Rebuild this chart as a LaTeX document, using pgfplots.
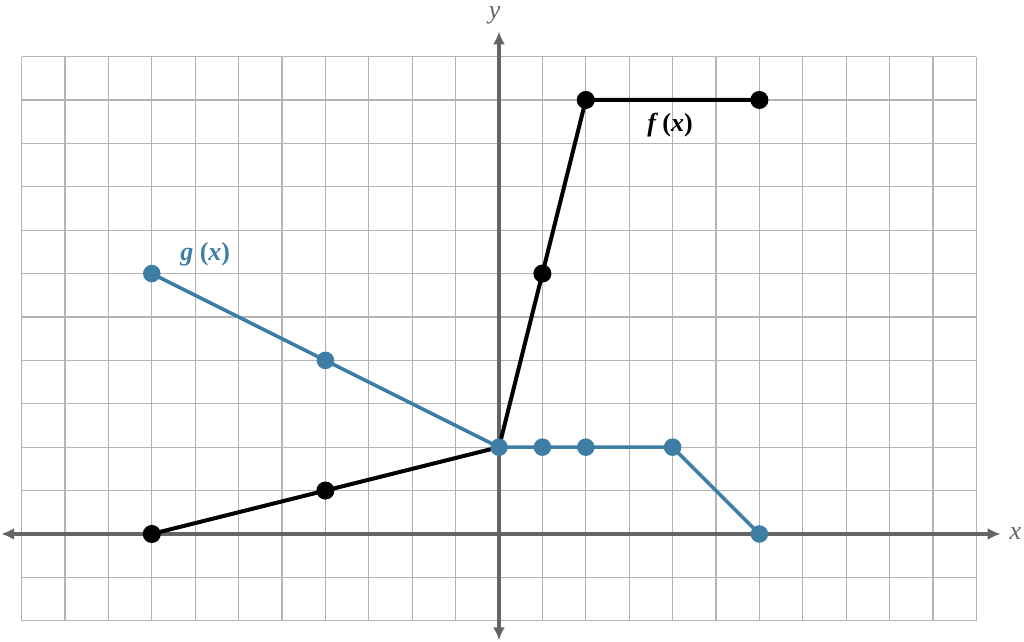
\documentclass[border=0pt]{standalone}
\usepackage{pgfplots}
\pgfplotsset{compat=1.18}
\usetikzlibrary{arrows.meta}
\usepackage{fontspec}
\setmainfont{Liberation Serif}
\definecolor{gblue}{RGB}{62,126,164}
\definecolor{axgray}{RGB}{100,100,100}
\definecolor{gridgray}{RGB}{180,180,180}
\begin{document}
\begin{tikzpicture}
\begin{axis}[
  x=43.4pt, y=43.4pt,
  xmin=-11, xmax=11, ymin=-2, ymax=11,
  xtick={-11,...,11}, ytick={-2,...,11},
  xticklabel=\empty, yticklabel=\empty,
  major tick length=0pt,
  grid=major,
  grid style={gridgray, line width=1.2pt},
  axis line style={draw=none},
  clip=false,
]
\draw[axgray, line width=3.2pt, -{Latex[length=13pt,width=12pt]}] (axis cs:0,0) -- (axis cs:11.56,0);
\draw[axgray, line width=3.2pt, -{Latex[length=13pt,width=12pt]}] (axis cs:0,0) -- (axis cs:-11.47,0);
\draw[axgray, line width=3.2pt, -{Latex[length=13pt,width=12pt]}] (axis cs:0,0) -- (axis cs:0,11.58);
\draw[axgray, line width=3.2pt, -{Latex[length=13pt,width=12pt]}] (axis cs:0,0) -- (axis cs:0,-2.45);
\node[axgray, font=\fontsize{26}{26}\selectfont\itshape] at (axis cs:11.9,0) {x};
\node[axgray, font=\fontsize{26}{26}\selectfont\itshape] at (axis cs:-0.1,11.94) {y};
\addplot[black, line width=4pt, mark=*, mark size=7pt, mark options={solid}, mark indices={1,2,4,5,6}]
  coordinates {(-8,0) (-4,1) (0,2) (1,6) (2,10) (6,10)};
\addplot[gblue, line width=3.5pt, mark=*, mark size=7pt]
  coordinates {(-8,6) (-4,4) (0,2) (1,2) (2,2) (4,2) (6,0)};
\node[black, font=\fontsize{26}{26}\selectfont\bfseries] at (axis cs:3.94,9.42) {\textit{f}\,(\textit{x})};
\node[gblue, font=\fontsize{26}{26}\selectfont\bfseries] at (axis cs:-6.77,6.45) {\textit{g} (\textit{x})};
\coordinate (bl) at (axis cs:-11.498,-2.488);
\coordinate (tr) at (axis cs:12.097,12.304);
\end{axis}
\pgfresetboundingbox
\path[use as bounding box] (bl) rectangle (tr);
\end{tikzpicture}
\end{document}
